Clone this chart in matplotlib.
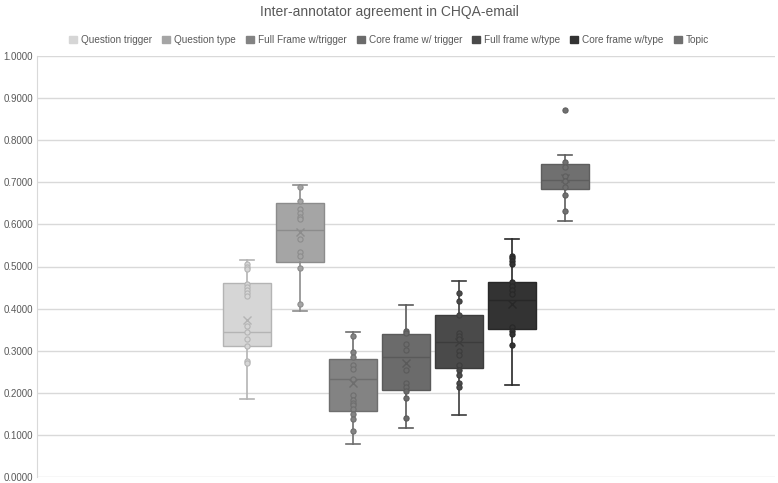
import numpy as np
import matplotlib
matplotlib.use('Agg')
import matplotlib.pyplot as plt
from matplotlib.patches import Patch

plt.rcParams['font.family'] = ['Liberation Sans', 'DejaVu Sans']

series = ["Question trigger", "Question type", "Full Frame w/trigger", "Core frame w/ trigger",
          "Full frame w/type", "Core frame w/type", "Topic"]
colors = ["#d6d6d6", "#a5a5a5", "#838383", "#6b6b6b", "#4a4a4a", "#333333", "#707070"]
edges = ["#b4b4b4", "#8c8c8c", "#6e6e6e", "#5a5a5a", "#3c3c3c", "#282828", "#5e5e5e"]

# box statistics
q1 = [0.311, 0.511, 0.156, 0.207, 0.258, 0.351, 0.683]
med = [0.345, 0.587, 0.232, 0.284, 0.321, 0.420, 0.706]
q3 = [0.461, 0.650, 0.280, 0.340, 0.384, 0.463, 0.743]
wlo = [0.185, 0.394, 0.079, 0.116, 0.147, 0.218, 0.609]
whi = [0.516, 0.693, 0.345, 0.409, 0.465, 0.565, 0.765]
means = [0.374, 0.581, 0.224, 0.271, 0.321, 0.412, 0.711]
outliers = [[], [], [], [], [], [], [0.871]]

# inner points
points = [
    [0.505, 0.500, 0.494, 0.459, 0.451, 0.445, 0.438, 0.431, 0.358, 0.345, 0.327, 0.311, 0.276, 0.270],
    [0.688, 0.656, 0.636, 0.628, 0.618, 0.612, 0.565, 0.534, 0.524, 0.497, 0.410],
    [0.334, 0.298, 0.286, 0.265, 0.256, 0.232, 0.194, 0.182, 0.176, 0.170, 0.162, 0.149, 0.137, 0.109],
    [0.346, 0.343, 0.315, 0.301, 0.254, 0.223, 0.213, 0.204, 0.187, 0.140],
    [0.436, 0.419, 0.384, 0.343, 0.335, 0.327, 0.300, 0.290, 0.265, 0.255, 0.242, 0.223, 0.213],
    [0.526, 0.520, 0.514, 0.506, 0.463, 0.454, 0.443, 0.434, 0.356, 0.346, 0.339, 0.313],
    [0.749, 0.736, 0.715, 0.704, 0.690, 0.669, 0.631],
]

yticks = np.arange(0, 1.01, 0.1)

fig = plt.figure(figsize=(7.78, 4.83), dpi=100)
ax = fig.add_axes([37 / 778, 6 / 483, 738 / 778, 421 / 483])

pos = np.arange(len(series))
for i in range(len(series)):
    st = dict(q1=q1[i], med=med[i], q3=q3[i], whislo=wlo[i], whishi=whi[i],
              mean=means[i], fliers=[])
    ax.bxp([st], positions=[pos[i]], widths=0.9, showmeans=True, patch_artist=True,
           boxprops=dict(facecolor=colors[i], edgecolor=edges[i], linewidth=1),
           medianprops=dict(color=edges[i], linewidth=1),
           whiskerprops=dict(color=edges[i], linewidth=1.2),
           capprops=dict(color=edges[i], linewidth=1.2),
           meanprops=dict(marker='x', markeredgecolor=edges[i], markersize=6, markeredgewidth=1),
           capwidths=0.27, zorder=3)
    ax.scatter(np.full(len(points[i]), pos[i]), points[i], s=14, facecolor=colors[i],
               edgecolor=edges[i], linewidth=0.8, zorder=4)
    if outliers[i]:
        ax.scatter(np.full(len(outliers[i]), pos[i]), outliers[i], s=14, facecolor=colors[i],
                   edgecolor=edges[i], linewidth=0.8, zorder=4)

ax.set_xlim(-3.96, 9.96)
ax.set_ylim(0, 1.0)
ax.set_yticks(yticks)
ax.set_yticklabels(["%.4f" % v for v in yticks], fontsize=7, color="#595959")
ax.set_xticks([])
ax.tick_params(axis='y', length=0, pad=3)
ax.grid(axis='y', color="#d9d9d9", linewidth=1, zorder=0)
ax.set_axisbelow(True)
for s in ["top", "right", "bottom"]:
    ax.spines[s].set_visible(False)
ax.spines["left"].set_color("#d9d9d9")

fig.text(0.5, 1 - 12 / 483, "Inter-annotator agreement in CHQA-email", ha='center', va='center',
         fontsize=10, color="#595959")
handles = [Patch(facecolor=colors[i], edgecolor=colors[i]) for i in range(len(series))]
fig.legend(handles, series, loc='center', bbox_to_anchor=(0.5, 1 - 40 / 483), ncol=7,
           frameon=False, fontsize=7.2, handlelength=0.8, handleheight=0.8,
           handletextpad=0.4, columnspacing=1.0, labelcolor="#595959")

fig.savefig("out.png", dpi=100)
